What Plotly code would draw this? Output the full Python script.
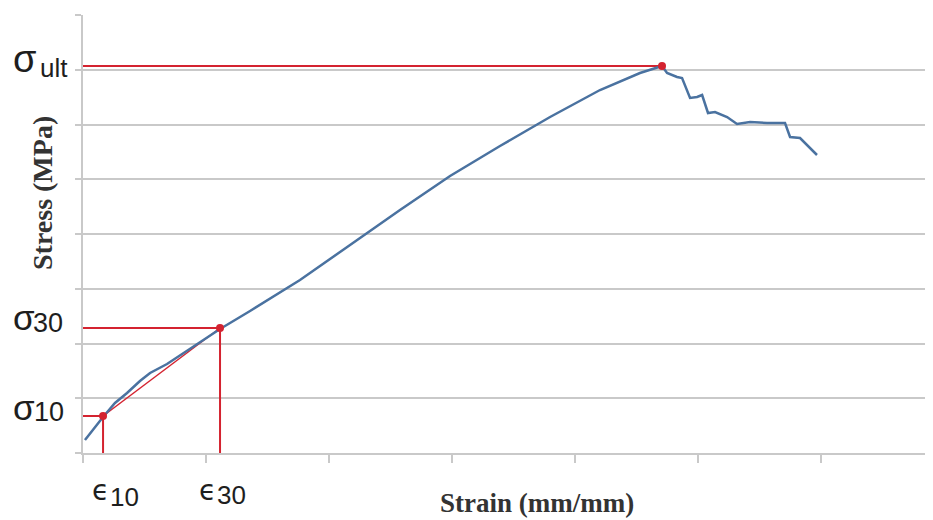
import plotly.graph_objects as go

# Stress-strain curve (arbitrary units)
strain = [0.016, 0.163, 0.260, 0.358, 0.463, 0.545, 0.683, 0.894, 1.114, 1.358, 1.764,
          2.171, 2.577, 2.984, 3.390, 3.797, 4.203, 4.528, 4.707, 4.748, 4.829, 4.870,
          4.935, 4.992, 5.033, 5.081, 5.138, 5.236, 5.317, 5.423, 5.561, 5.707, 5.748,
          5.829, 5.886, 5.967]
stress = [0.237, 0.658, 0.913, 1.096, 1.315, 1.461, 1.626, 1.936, 2.265, 2.594, 3.160,
          3.799, 4.438, 5.059, 5.607, 6.137, 6.630, 6.941, 7.068, 6.941, 6.868, 6.849,
          6.484, 6.502, 6.539, 6.210, 6.228, 6.137, 6.009, 6.046, 6.027, 6.027, 5.772,
          5.753, 5.626, 5.443]

# key points: eps10/sig10, eps30/sig30, ultimate
eps10, sig10 = 0.163, 0.676
eps30, sig30 = 1.114, 2.283
eps_ult, sig_ult = 4.707, 7.068

RED = "#d42330"
BLUE = "#4a72a0"
GRID = "#c9c9c9"

# page offset of the plot div (browser default body margin)
OFF = 8
# plot area in page pixels
PX0, PX1, PY0, PY1 = 83, 933, 15, 453

def px(x):
    return (x - PX0) / (PX1 - PX0)

def py(y):
    return (PY1 - y) / (PY1 - PY0)

fig = go.Figure()

def red_line(xs, ys, w=2):
    fig.add_trace(go.Scatter(x=xs, y=ys, mode="lines", line=dict(color=RED, width=w),
                             hoverinfo="skip", showlegend=False, cliponaxis=False))

red_line([0, eps_ult], [sig_ult, sig_ult])
red_line([0, eps30, eps30], [sig30, sig30, 0])
red_line([-0.03, eps10, eps10], [sig10, sig10, 0])
red_line([eps10, eps30], [sig10, sig30], w=1.5)

fig.add_trace(go.Scatter(x=strain, y=stress, mode="lines",
                         line=dict(color=BLUE, width=2.5), showlegend=False))

fig.add_trace(go.Scatter(x=[eps10, eps30, eps_ult], y=[sig10, sig30, sig_ult], mode="markers",
                         marker=dict(color=RED, size=8), showlegend=False, cliponaxis=False))

def label(text, left, mid, size, family="Liberation Sans, Arial"):
    fig.add_annotation(text=text, x=px(left), y=py(mid), xref="paper", yref="paper",
                       xanchor="left", yanchor="middle", showarrow=False,
                       font=dict(family=family, size=size, color="#1e1e1e"))

label("σ", 11, 59, 38)
label("ult", 38, 68, 26)
label("σ", 11, 317, 35)
label("30", 31, 323, 27)
label("σ", 11, 407, 35)
label("10", 32, 412, 27)
label("ϵ", 90, 490, 28, family="DejaVu Sans")
label("10", 108, 497, 26)
label("ϵ", 197, 490, 28, family="DejaVu Sans")
label("30", 215, 495, 26)

fig.add_annotation(text="<b>Strain (mm/mm)</b>", x=px(537), y=py(503),
                   xref="paper", yref="paper", showarrow=False,
                   font=dict(family="Liberation Serif, Times New Roman", size=27, color="#333333"),
                   xanchor="center", yanchor="middle")
fig.add_annotation(text="<b>Stress (MPa)</b>", x=px(42), y=py(193),
                   xref="paper", yref="paper", showarrow=False,
                   font=dict(family="Liberation Serif, Times New Roman", size=28, color="#333333"),
                   textangle=-90, xanchor="center", yanchor="middle")

fig.update_xaxes(range=[0, 6.91], dtick=1, tick0=0, showticklabels=False, showgrid=False,
                 zeroline=False, showline=True, linecolor=GRID, linewidth=2,
                 ticks="outside", ticklen=8, tickcolor=GRID, tickwidth=1.5)
fig.update_yaxes(range=[0, 8], dtick=1, tick0=0, showticklabels=False, showgrid=True,
                 gridcolor=GRID, gridwidth=2, zeroline=False, showline=True,
                 linecolor=GRID, linewidth=2, ticks="outside", ticklen=6,
                 tickcolor=GRID, tickwidth=1.5)

W, H = 933 - OFF, 520 - OFF
fig.update_layout(width=W, height=H,
                  margin=dict(l=PX0 - OFF, r=W - (PX1 - OFF), t=PY0 - OFF, b=H - (PY1 - OFF)),
                  plot_bgcolor="white", paper_bgcolor="white")

fig.write_html("out.html")
